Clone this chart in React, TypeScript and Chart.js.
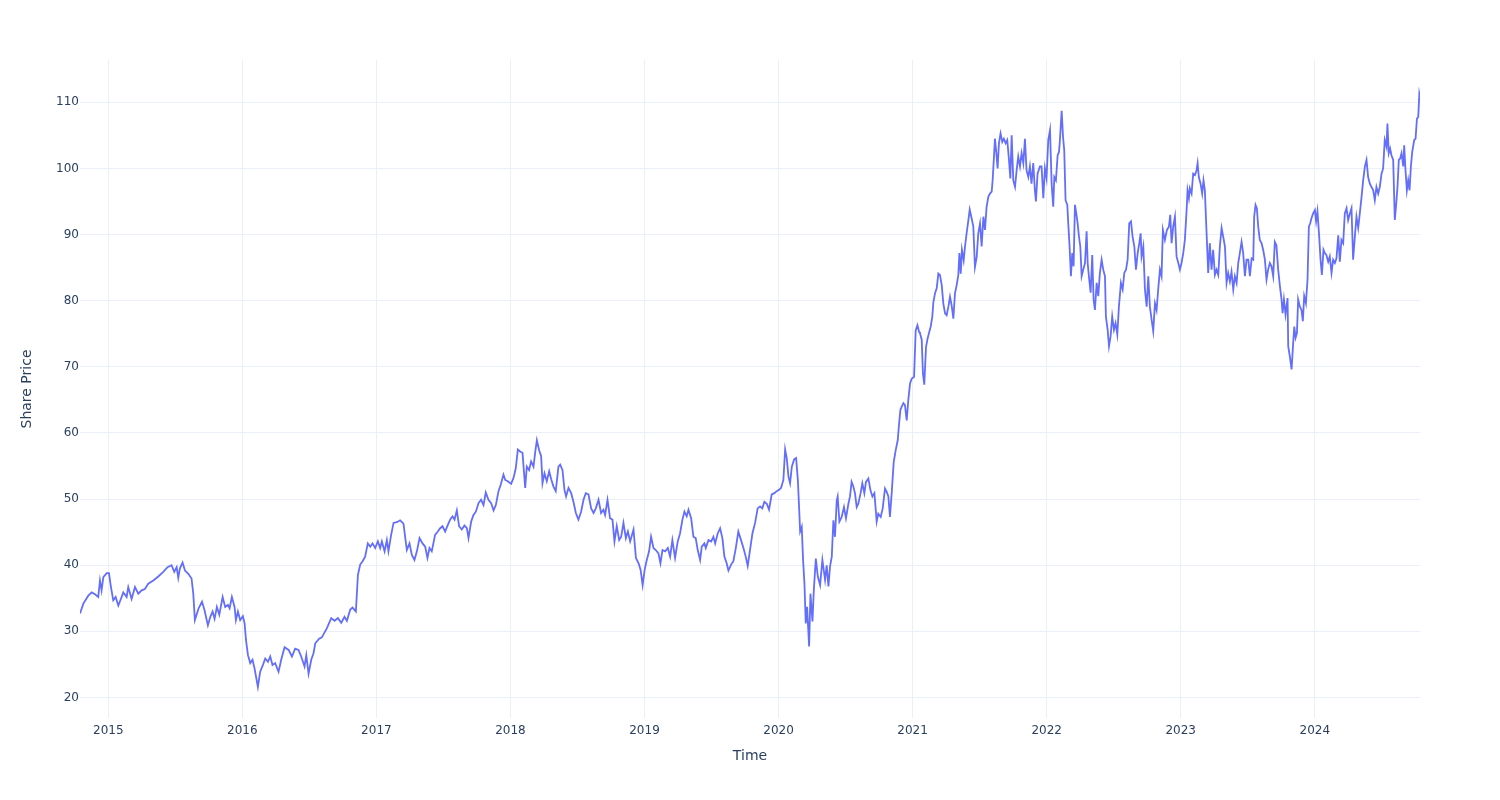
import React, { useEffect, useRef } from "react";
import { Chart, registerables } from "chart.js";

Chart.register(...registerables);

// Time in decimal years, price values
const times: number[] = [
  2014.789, 2014.814, 2014.851, 2014.876, 2014.901, 2014.925, 2014.938, 2014.95, 2014.963, 2014.988,
  2015.005, 2015.02, 2015.037, 2015.055, 2015.075, 2015.094, 2015.112, 2015.137, 2015.149, 2015.174,
  2015.199, 2015.224, 2015.249, 2015.273, 2015.298, 2015.336, 2015.373, 2015.41, 2015.442, 2015.472,
  2015.492, 2015.51, 2015.522, 2015.534, 2015.554, 2015.572, 2015.597, 2015.621, 2015.634, 2015.646,
  2015.674, 2015.699, 2015.718, 2015.743, 2015.761, 2015.778, 2015.793, 2015.81, 2015.828, 2015.853,
  2015.872, 2015.892, 2015.905, 2015.922, 2015.942, 2015.952, 2015.967, 2015.984, 2016.004, 2016.017,
  2016.027, 2016.042, 2016.059, 2016.076, 2016.091, 2016.116, 2016.133, 2016.153, 2016.171, 2016.191,
  2016.208, 2016.225, 2016.245, 2016.27, 2016.29, 2016.315, 2016.345, 2016.37, 2016.394, 2016.419,
  2016.439, 2016.464, 2016.477, 2016.494, 2016.514, 2016.531, 2016.544, 2016.573,
  2016.593, 2016.631, 2016.663, 2016.688, 2016.713, 2016.738, 2016.762, 2016.78, 2016.805, 2016.822,
  2016.847, 2016.862, 2016.879, 2016.897, 2016.916, 2016.936, 2016.954, 2016.971, 2016.991, 2017.011,
  2017.028, 2017.041, 2017.061, 2017.078, 2017.09, 2017.11, 2017.128, 2017.153, 2017.177, 2017.202,
  2017.227, 2017.247, 2017.264, 2017.284, 2017.302, 2017.322, 2017.344, 2017.364, 2017.381, 2017.396,
  2017.413, 2017.438, 2017.458, 2017.476,
  2017.493, 2017.513, 2017.533, 2017.55, 2017.568, 2017.583, 2017.6, 2017.617, 2017.637, 2017.657,
  2017.675, 2017.687, 2017.707, 2017.724, 2017.742, 2017.762, 2017.781, 2017.799, 2017.816, 2017.836,
  2017.856, 2017.874, 2017.891, 2017.911, 2017.928, 2017.948, 2017.961, 2017.98, 2018.005, 2018.023,
  2018.04, 2018.055, 2018.072, 2018.09, 2018.11, 2018.122, 2018.139, 2018.154, 2018.172, 2018.184,
  2018.197, 2018.214, 2018.229, 2018.239, 2018.254, 2018.271, 2018.289, 2018.304, 2018.321, 2018.338,
  2018.358, 2018.371,
  2018.388, 2018.403, 2018.415, 2018.433, 2018.453, 2018.47, 2018.488, 2018.507, 2018.527, 2018.545,
  2018.562, 2018.582, 2018.602, 2018.62, 2018.637, 2018.657, 2018.676, 2018.694, 2018.706, 2018.724,
  2018.743, 2018.761, 2018.776, 2018.793, 2018.811, 2018.826, 2018.843, 2018.861, 2018.876, 2018.893,
  2018.918, 2018.936, 2018.956, 2018.971, 2018.986, 2019.001, 2019.017, 2019.034, 2019.049, 2019.067,
  2019.084, 2019.104, 2019.119, 2019.134, 2019.154, 2019.174, 2019.191, 2019.208, 2019.228, 2019.248,
  2019.265,
  2019.283, 2019.298, 2019.315, 2019.328, 2019.348, 2019.365, 2019.382, 2019.397, 2019.415, 2019.427,
  2019.447, 2019.457, 2019.477, 2019.497, 2019.514, 2019.527, 2019.546, 2019.564, 2019.581, 2019.596,
  2019.613, 2019.626, 2019.646, 2019.663, 2019.681, 2019.7, 2019.72, 2019.738, 2019.755, 2019.77,
  2019.787, 2019.805, 2019.825, 2019.844, 2019.862, 2019.879, 2019.894, 2019.912, 2019.929, 2019.949,
  2019.969, 2019.986, 2020.004, 2020.019, 2020.036, 2020.049, 2020.061, 2020.074, 2020.086, 2020.099,
  2020.116, 2020.131, 2020.144, 2020.154, 2020.161,
  2020.173, 2020.183, 2020.193, 2020.203, 2020.213, 2020.228, 2020.238, 2020.253, 2020.263, 2020.278,
  2020.293, 2020.31, 2020.327, 2020.347, 2020.359, 2020.372, 2020.384, 2020.397, 2020.409, 2020.421,
  2020.434, 2020.441, 2020.454, 2020.471, 2020.488, 2020.503, 2020.521, 2020.533, 2020.545, 2020.558,
  2020.57, 2020.583, 2020.595, 2020.612, 2020.625, 2020.64, 2020.652, 2020.67, 2020.685, 2020.7,
  2020.715, 2020.732, 2020.744, 2020.762, 2020.777, 2020.794, 2020.807, 2020.819, 2020.831, 2020.844,
  2020.859, 2020.874, 2020.889, 2020.899, 2020.909, 2020.919, 2020.931, 2020.943, 2020.956, 2020.968,
  2020.981, 2020.993, 2021.011, 2021.023, 2021.036, 2021.048,
  2021.055, 2021.068, 2021.077, 2021.087, 2021.1, 2021.112, 2021.122, 2021.135, 2021.147, 2021.155,
  2021.167, 2021.18, 2021.192, 2021.204, 2021.217, 2021.229, 2021.242, 2021.254, 2021.267, 2021.279,
  2021.291, 2021.304, 2021.316, 2021.329, 2021.341, 2021.349, 2021.359, 2021.368, 2021.381, 2021.391,
  2021.403, 2021.416, 2021.426, 2021.441, 2021.453, 2021.465, 2021.478, 2021.49, 2021.503, 2021.515,
  2021.528, 2021.54, 2021.552, 2021.565, 2021.577, 2021.59, 2021.597, 2021.607, 2021.614, 2021.624,
  2021.634, 2021.644, 2021.656, 2021.669, 2021.681, 2021.694, 2021.706, 2021.719, 2021.729, 2021.739,
  2021.751, 2021.764, 2021.776, 2021.788, 2021.801, 2021.813, 2021.826, 2021.838, 2021.85, 2021.863,
  2021.875, 2021.887, 2021.9, 2021.912, 2021.92, 2021.932, 2021.95,
  2021.962, 2021.975, 2021.987, 2021.999, 2022.012, 2022.025, 2022.037, 2022.049, 2022.057, 2022.069,
  2022.082, 2022.092, 2022.099, 2022.112, 2022.122, 2022.131, 2022.141, 2022.154, 2022.161, 2022.171,
  2022.181, 2022.191, 2022.201, 2022.211, 2022.221, 2022.231, 2022.241, 2022.251, 2022.261, 2022.273,
  2022.286, 2022.298, 2022.306, 2022.315, 2022.328, 2022.34, 2022.35, 2022.36, 2022.373, 2022.385,
  2022.397, 2022.41, 2022.422, 2022.435, 2022.442, 2022.455, 2022.465, 2022.477, 2022.489, 2022.502,
  2022.514, 2022.527, 2022.539, 2022.554, 2022.567, 2022.579, 2022.592, 2022.604, 2022.616, 2022.629,
  2022.641, 2022.654, 2022.666, 2022.679, 2022.691, 2022.701, 2022.708, 2022.721, 2022.733, 2022.746,
  2022.758, 2022.77, 2022.783, 2022.795, 2022.808, 2022.82, 2022.832, 2022.845,
  2022.857, 2022.867, 2022.882, 2022.897, 2022.912, 2022.922, 2022.932, 2022.944, 2022.957, 2022.969,
  2022.982, 2022.994, 2023.006, 2023.019, 2023.031, 2023.044, 2023.051, 2023.061, 2023.068, 2023.081,
  2023.093, 2023.106, 2023.118, 2023.126, 2023.135, 2023.148, 2023.16, 2023.17, 2023.18, 2023.193,
  2023.205, 2023.217, 2023.23, 2023.242, 2023.255, 2023.267, 2023.28, 2023.292, 2023.305, 2023.317,
  2023.33, 2023.342, 2023.354, 2023.367, 2023.379, 2023.392, 2023.404, 2023.417, 2023.429, 2023.441,
  2023.454, 2023.466, 2023.479, 2023.491, 2023.504, 2023.516, 2023.529, 2023.541, 2023.548, 2023.558,
  2023.568, 2023.578, 2023.59, 2023.603, 2023.615, 2023.628, 2023.64, 2023.652, 2023.665, 2023.677,
  2023.69, 2023.702, 2023.714, 2023.727, 2023.74,
  2023.752, 2023.76, 2023.77, 2023.782, 2023.797, 2023.802, 2023.814, 2023.827, 2023.839, 2023.847,
  2023.857, 2023.867, 2023.876, 2023.889, 2023.901, 2023.911, 2023.921, 2023.934, 2023.946, 2023.956,
  2023.966, 2023.976, 2023.988, 2024.001, 2024.01, 2024.02, 2024.033, 2024.043, 2024.053, 2024.065,
  2024.075, 2024.087, 2024.1, 2024.112, 2024.125, 2024.137, 2024.15, 2024.162, 2024.175, 2024.187,
  2024.199, 2024.212, 2024.224, 2024.237, 2024.249, 2024.262, 2024.274, 2024.286, 2024.299, 2024.311,
  2024.324, 2024.336, 2024.349, 2024.361, 2024.374, 2024.386, 2024.398, 2024.411, 2024.423, 2024.436,
  2024.448, 2024.46, 2024.473, 2024.485, 2024.498, 2024.51, 2024.522, 2024.535, 2024.542, 2024.552,
  2024.562, 2024.572, 2024.585, 2024.597, 2024.607, 2024.617, 2024.627, 2024.637, 2024.647, 2024.66,
  2024.667, 2024.677, 2024.687, 2024.697, 2024.707, 2024.717, 2024.727, 2024.742, 2024.752, 2024.762,
  2024.772, 2024.78, 2024.785,
];

const prices: number[] = [
  32.7, 34.2, 35.4, 35.9, 35.6, 35.2, 37.7, 36.2, 38.2, 38.8,
  38.8, 36.7, 34.7, 35.2, 33.9, 34.9, 35.9, 35.2, 36.7, 34.9,
  36.7, 35.7, 36.2, 36.4, 37.2, 37.7, 38.3, 39.0, 39.7, 40.0,
  39.0, 39.7, 38.1, 39.5, 40.4, 39.2, 38.7, 38.0, 35.7, 31.7,
  33.5, 34.5, 33.2, 30.9, 32.2, 33.0, 31.9, 33.7, 32.5, 35.2,
  33.7, 34.0, 33.5, 35.2, 33.7, 31.7, 33.0, 31.7, 32.3, 31.2,
  28.7, 26.4, 25.2, 25.7, 24.4, 21.6, 23.9, 24.9, 25.9, 25.4,
  26.2, 24.9, 25.2, 23.9, 25.7, 27.6, 27.2, 26.2, 27.4, 27.2,
  26.2, 24.7, 26.4, 23.6, 25.7, 26.7, 28.2, 28.9,
  29.1, 30.5, 32.0, 31.6, 32.0, 31.3, 32.2, 31.6, 33.3, 33.6,
  33.0, 38.5, 40.1, 40.6, 41.3, 43.3, 42.8, 43.3, 42.6, 43.6,
  42.6, 43.6, 42.1, 43.8, 42.1, 44.6, 46.4, 46.5, 46.8, 46.3,
  42.3, 43.3, 41.6, 40.8, 42.1, 44.1, 43.3, 42.8, 41.1, 42.6,
  42.1, 44.6, 45.1, 45.6,
  45.9, 45.1, 46.1, 46.9, 47.4, 46.9, 48.3, 45.9, 45.4, 46.0,
  45.6, 44.1, 46.6, 47.6, 48.1, 49.4, 49.9, 49.1, 51.0, 49.9,
  49.4, 48.3, 49.1, 51.2, 52.2, 53.7, 52.9, 52.7, 52.3, 53.2,
  54.7, 57.5, 57.2, 57.0, 51.7, 54.9, 54.4, 55.7, 54.9, 57.0,
  58.9, 57.4, 56.5, 52.4, 53.9, 52.7, 54.2, 53.0, 51.9, 51.2,
  54.9, 55.2,
  54.4, 51.4, 50.4, 51.7, 50.9, 49.6, 47.9, 46.9, 48.1, 49.9,
  50.9, 50.7, 48.6, 47.9, 48.6, 49.9, 47.9, 48.4, 47.6, 49.9,
  47.1, 46.9, 43.6, 45.9, 43.8, 44.3, 46.4, 44.1, 45.1, 43.6,
  45.4, 41.1, 40.3, 39.3, 37.0, 39.3, 40.8, 42.1, 44.3, 42.6,
  42.3, 41.8, 40.3, 42.3, 42.1, 42.6, 41.3, 43.8, 41.1, 43.6,
  44.8,
  46.9, 48.1, 47.4, 48.4, 47.1, 44.3, 44.1, 42.3, 40.8, 42.8,
  43.3, 42.6, 43.8, 43.6, 44.3, 43.3, 44.8, 45.6, 44.1, 41.3,
  40.3, 39.2, 40.1, 40.6, 42.6, 45.1, 43.8, 42.6, 41.3, 39.9,
  42.3, 44.8, 46.4, 48.6, 48.9, 48.6, 49.6, 49.3, 48.4, 50.7,
  50.9, 51.2, 51.4, 51.7, 52.9, 57.5, 56.2, 53.4, 52.4, 54.9,
  56.0, 56.2, 52.9, 48.4, 45.1,
  45.8, 40.8, 37.3, 31.2, 33.7, 27.7, 35.7, 31.5, 36.2, 41.0,
  38.3, 37.0, 40.8, 37.8, 40.0, 36.8, 39.8, 41.3, 46.8, 44.3,
  49.8, 50.4, 46.6, 47.3, 48.8, 47.1, 49.3, 50.4, 52.6, 51.9,
  50.9, 48.8, 49.3, 50.9, 52.4, 50.9, 52.6, 53.1, 51.4, 50.4,
  50.9, 46.6, 47.8, 47.3, 48.6, 51.6, 51.1, 50.4, 47.3, 50.9,
  55.6, 57.4, 58.9, 61.4, 63.5, 64.0, 64.5, 64.2, 61.9, 65.0,
  67.5, 68.2, 68.5, 75.5, 76.3, 75.3,
  75.1, 74.1, 69.0, 67.3, 73.0, 74.3, 75.1, 76.1, 77.6, 79.8,
  81.1, 81.9, 84.1, 83.9, 82.4, 79.6, 78.1, 77.8, 79.1, 80.6,
  79.3, 77.3, 81.1, 82.4, 83.9, 87.2, 84.1, 87.7, 86.1, 88.2,
  90.2, 92.2, 93.8, 92.4, 91.2, 85.1, 86.6, 90.2, 91.7, 88.2,
  92.7, 90.7, 94.2, 95.7, 96.2, 96.5, 98.2, 101.8, 104.5, 102.5,
  100.0, 103.8, 105.3, 104.0, 104.5, 103.8, 104.3, 101.3, 98.5, 105.0,
  98.2, 97.2, 99.7, 101.8, 100.3, 102.3, 100.8, 104.5, 99.7, 98.7,
  100.3, 97.7, 100.8, 96.7, 95.0, 99.2, 100.3,
  100.3, 95.5, 100.0, 98.5, 104.3, 105.8, 97.7, 94.2, 98.7, 98.2,
  102.0, 102.5, 104.3, 108.7, 104.8, 102.8, 95.2, 94.5, 91.7, 88.2,
  83.7, 87.2, 85.2, 94.5, 93.2, 91.7, 89.7, 88.2, 83.7, 84.7,
  85.7, 90.5, 85.7, 83.7, 81.2, 86.9, 80.2, 78.6, 82.7, 80.7,
  84.2, 86.2, 84.7, 83.7, 77.6, 75.6, 73.1, 74.6, 77.6, 75.6,
  76.6, 74.9, 79.1, 82.7, 81.7, 84.2, 84.7, 86.2, 91.7, 92.0,
  89.7, 88.2, 84.7, 87.2, 88.7, 90.2, 86.7, 88.2, 81.7, 79.1,
  83.7, 79.1, 77.1, 75.4, 79.6, 78.6, 81.7, 84.7,
  83.7, 90.7, 89.2, 90.7, 91.2, 93.0, 88.7, 91.2, 92.7, 86.7,
  85.7, 84.7, 85.7, 87.2, 89.2, 93.7, 96.7, 95.5, 97.0, 96.2,
  99.2, 99.0, 99.7, 100.8, 98.7, 97.7, 96.2, 98.2, 96.7, 90.2,
  84.2, 88.7, 84.7, 87.7, 83.9, 84.7, 83.9, 88.2, 91.0, 89.7,
  88.2, 82.7, 84.2, 82.9, 84.4, 81.7, 83.7, 82.7, 85.7, 87.2,
  88.9, 87.2, 83.7, 86.2, 86.2, 83.7, 86.4, 86.2, 92.7, 94.5,
  94.0, 91.2, 89.2, 88.7, 87.7, 86.2, 83.2, 84.7, 85.7, 85.2,
  83.7, 88.9, 88.4, 84.7, 82.2,
  80.2, 78.1, 80.2, 77.9, 80.4, 73.1, 71.6, 69.6, 73.6, 76.1,
  74.4, 75.1, 80.2, 79.1, 78.6, 76.9, 80.7, 79.6, 83.2, 91.2,
  91.7, 92.5, 93.2, 93.7, 92.0, 93.5, 89.7, 86.2, 83.9, 87.7,
  87.2, 86.9, 85.9, 86.7, 84.2, 86.2, 85.7, 86.4, 89.9, 85.9,
  89.2, 88.7, 93.2, 94.0, 92.2, 93.2, 94.0, 86.2, 89.7, 92.7,
  91.0, 93.2, 95.7, 98.2, 100.3, 101.3, 98.7, 97.7, 97.2, 96.7,
  95.2, 97.2, 96.2, 97.2, 99.2, 100.0, 104.3, 103.3, 106.8, 102.3,
  103.0, 102.0, 101.3, 92.2, 94.5, 97.2, 101.3, 101.5, 102.3, 100.3,
  103.5, 99.7, 96.7, 98.2, 96.7, 100.3, 102.5, 104.3, 104.5, 107.5,
  107.8, 111.3, 110.8,
];

const xTickYears: number[] = [2015, 2016, 2017, 2018, 2019, 2020, 2021, 2022, 2023, 2024];
const yTickValues: number[] = [20, 30, 40, 50, 60, 70, 80, 90, 100, 110];

const FONT = "'DejaVu Sans', Verdana, sans-serif";
const TEXT = "#2a3f5f";
const GRID = "#ebf0f8";

export default function App() {
  const ref = useRef<HTMLCanvasElement | null>(null);

  useEffect(() => {
    if (!ref.current) return;
    const points = times.map((t, i) => ({ x: t, y: prices[i] }));
    const chart = new Chart(ref.current, {
      type: "line",
      data: {
        datasets: [
          {
            label: "Share Price",
            data: points,
            borderColor: "#636efa",
            backgroundColor: "#636efa",
            borderWidth: 1.8,
            pointRadius: 0,
            tension: 0,
            fill: false,
          },
        ],
      },
      options: {
        responsive: false,
        animation: false,
        layout: { padding: { left: 0, right: 80, top: 60, bottom: 0 } },
        plugins: { legend: { display: false }, tooltip: { enabled: false } },
        scales: {
          x: {
            type: "linear",
            min: times[0],
            max: times[times.length - 1],
            afterBuildTicks: (s: any) => {
              s.ticks = xTickYears.map((v) => ({ value: v }));
            },
            afterFit: (s: any) => {
              s.height = 82;
            },
            ticks: {
              callback: (v: any) => String(v),
              color: TEXT,
              font: { family: FONT, size: 12 },
              padding: 6,
              maxRotation: 0,
              autoSkip: false,
            },
            grid: { color: GRID, lineWidth: 1, drawTicks: false },
            border: { display: false },
            title: {
              display: true,
              text: "Time",
              color: TEXT,
              font: { family: FONT, size: 14 },
              padding: { top: 0, bottom: 35 },
            },
          },
          y: {
            type: "linear",
            min: 16.9,
            max: 116.4,
            afterBuildTicks: (s: any) => {
              s.ticks = yTickValues.map((v) => ({ value: v }));
            },
            afterFit: (s: any) => {
              s.width = 80;
            },
            ticks: {
              color: TEXT,
              font: { family: FONT, size: 12 },
              padding: 1,
              autoSkip: false,
            },
            grid: { color: GRID, lineWidth: 1, drawTicks: false },
            border: { display: false },
            title: {
              display: true,
              text: "Share Price",
              color: TEXT,
              font: { family: FONT, size: 14 },
              padding: { top: 19, bottom: 0 },
            },
          },
        },
      },
    });
    return () => chart.destroy();
  }, []);

  return (
    <div style={{ position: "absolute", left: 0, top: 0, width: 1500, height: 800, background: "#fff" }}>
      <canvas ref={ref} width={1500} height={800} style={{ width: 1500, height: 800, display: "block" }} />
    </div>
  );
}
